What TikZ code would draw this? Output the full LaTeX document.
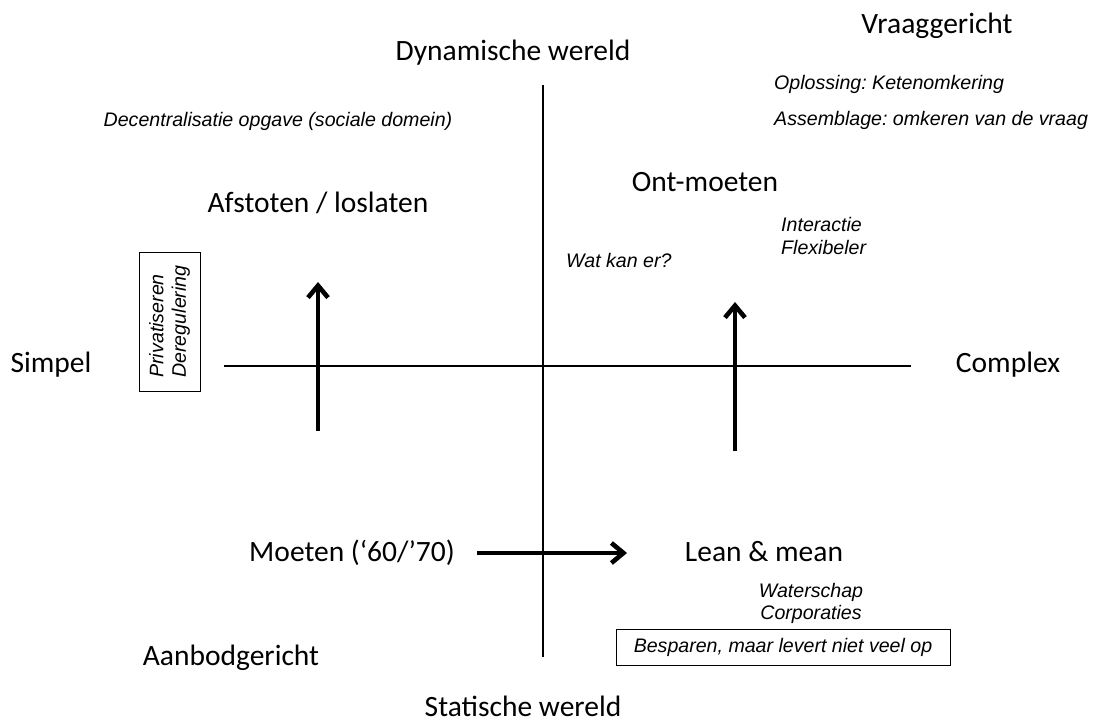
\documentclass[tikz,border=0pt]{standalone}
\usepackage{fontspec}
\setmainfont{Carlito}
\newfontfamily\arialfont{Liberation Sans}
\frenchspacing
\usetikzlibrary{arrows.meta}
\tikzset{
  big/.style={inner sep=0pt, anchor=base, font=\fontsize{29.5}{35}\selectfont},
  small/.style={inner sep=0pt, anchor=base, font=\arialfont\itshape\fontsize{19.6}{22.5}\selectfont},
  axis/.style={line width=2.6pt},
  bigarrow/.style={line width=4.6pt, -{Straight Barb[length=12pt,width=20pt,line width=4.6pt]}},
  framebox/.style={draw, line width=1pt, inner sep=0pt}
}
\begin{document}
\begin{tikzpicture}[x=1pt,y=-1pt]
\useasboundingbox (0,0) rectangle (1097,722);
% axes
\coordinate (vt) at (543,85);
\coordinate (vb) at (543,657);
\coordinate (hl) at (224,366);
\coordinate (hr) at (911,366);
\draw[axis] (vt) -- (vb);
\draw[axis] (hl) -- (hr);
% main labels
\node[big] (vraag) at (937,34) {Vraaggericht};
\node[big] (dyn) at (513,61) {Dynamische wereld};
\node[big] (afst) at (318,212) {Afstoten / loslaten};
\node[big] (ont) at (705,192) {Ont-moeten};
\node[big] (simpel) at (51,372) {Simpel};
\node[big] (complex) at (1008,372) {Complex};
\node[big] (moeten) at (352,561) {Moeten (‘60/’70)};
\node[big] (lean) at (764,561) {Lean \& mean};
\node[big] (aanbod) at (231,665) {Aanbodgericht};
\node[big, text depth=0pt] (stat) at (523,716) {Statische wereld};
% small italic texts
\node[small] (decen) at (278,127) {Decentralisatie opgave (sociale domein)};
\node[small, anchor=base west] (opl) at (774,90) {Oplossing: Ketenomkering};
\node[small, anchor=base west] (ass) at (774,126) {Assemblage: omkeren van de vraag};
\node[small, anchor=base west] (inter) at (781,231) {Interactie};
\node[small, anchor=base west] (flex) at (781,254) {Flexibeler};
\node[small, anchor=base west] (wat) at (566,267) {Wat kan er?};
\node[small] (water) at (811,597) {Waterschap};
\node[small] (corp) at (811,619) {Corporaties};
% boxes
\node[framebox, minimum width=139pt, minimum height=61pt, rotate=90, font=\arialfont\itshape\fontsize{19.6}{22.5}\selectfont, align=left] (priv) at (169.5,321.5) {Privatiseren\\Deregulering};
\node[framebox, minimum width=334pt, minimum height=36pt, font=\arialfont\itshape\fontsize{19.6}{22.5}\selectfont] (besp) at (783,647) {Besparen, maar levert niet veel op};
% arrows
\coordinate (a1s) at (318,431);
\coordinate (a1e) at (318,282);
\coordinate (a2s) at (735,451);
\coordinate (a2e) at (735,302);
\coordinate (a3s) at (477,553);
\coordinate (a3e) at (627,553);
\draw[bigarrow] (a1s) -- (a1e);
\draw[bigarrow] (a2s) -- (a2e);
\draw[bigarrow] (a3s) -- (a3e);
\end{tikzpicture}
\end{document}
